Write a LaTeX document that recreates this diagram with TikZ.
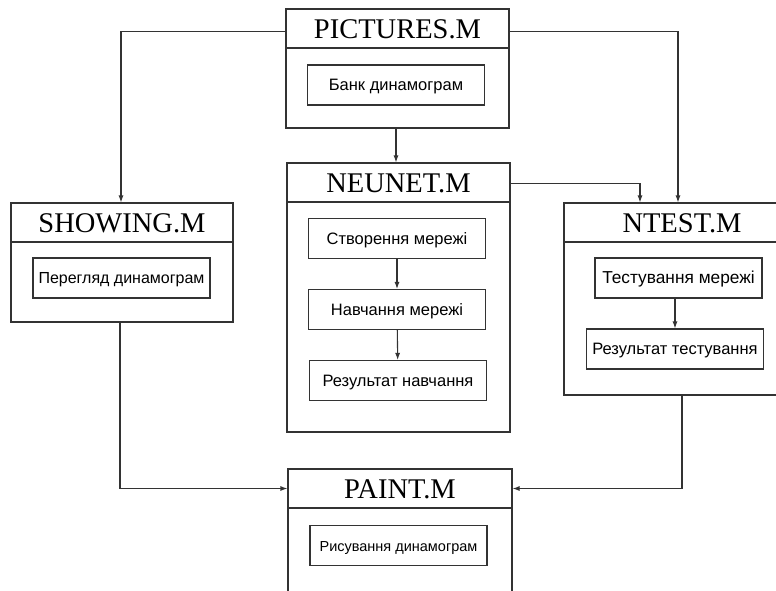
\documentclass[tikz,border=0pt]{standalone}
\usepackage{fontspec}
\setmainfont{Liberation Serif}
\setsansfont{Liberation Sans}
\usetikzlibrary{arrows.meta, positioning}

\begin{document}
\begin{tikzpicture}[x=1pt, y=-1pt,
  module/.style={rectangle, draw=black!80, line width=1.1pt, fill=white,
    inner sep=0pt},
  %
  header/.style={rectangle, draw=black!80, line width=1.1pt, inner sep=0pt,
    minimum height=39pt, text height=19pt, text depth=0pt,
    font=\fontsize{28.5}{30}\selectfont},
  %
  task/.style={rectangle, draw=black!80, line width=1.1pt, fill=white,
    minimum width=177pt, minimum height=40pt, inner sep=0pt,
    text height=11.5pt, text depth=0pt,
    font=\sffamily\fontsize{16.5}{18}\selectfont},
  %
  small/.style={font=\sffamily\fontsize{#1}{18}\selectfont},
  %
  link/.style={draw=black!80, line width=1.1pt,
    -{Latex[length=7pt,width=5pt]}}
  ]

  \useasboundingbox (0,0) rectangle (776,590);

  %%%%%%%%%%%%%%%%%%%%%%%%%%%%%%% modules
  \node [module, minimum width=223pt, minimum height=119pt] (pictures) at (397.5,68.5) {};
  \node [header, minimum width=223pt, anchor=north] (picturesT) at (pictures.north) {PICTURES.M};
  \node [task] (bank) at (396,85) {Банк динамограм};

  \node [module, minimum width=223pt, minimum height=269pt] (neunet) at (398.5,297.5) {};
  \node [header, minimum width=223pt, anchor=north] (neunetT) at (neunet.north) {NEUNET.M};
  \node [task] (create) at (397,238.5) {Створення мережі};
  \node [task] (train) at (397,309.5) {Навчання мережі};
  \node [task] (trainres) at (398,380.5) {Результат навчання};

  \node [module, minimum width=222pt, minimum height=119pt] (showing) at (122,262.5) {};
  \node [header, minimum width=222pt, anchor=north] (showingT) at (showing.north) {SHOWING.M};
  \node [task, small=16] (view) at (121.5,278) {Перегляд динамограм};

  \node [module, minimum width=236pt, minimum height=192pt] (ntest) at (682,299) {};
  \node [header, minimum width=236pt, anchor=north] (ntestT) at (ntest.north) {NTEST.M};
  \node [task, small=17.3, minimum width=167pt] (test) at (678.5,278) {Тестування мережі};
  \node [task] (testres) at (675,349) {Результат тестування};

  \node [module, minimum width=224pt, minimum height=131pt] (paint) at (400,534.5) {};
  \node [header, minimum width=224pt, anchor=north] (paintT) at (paint.north) {PAINT.M};
  \node [task, small=14.5] (draw) at (398.5,545.5) {Рисування динамограм};

  %%%%%%%%%%%%%%%%%%%%%%%%%%%%%%% links
  \draw [link] (pictures.south -| bank) -- (neunet.north -| bank);
  \draw [link] ([yshift=-23pt]pictures.north west) -| ([xshift=-1pt]showing.north);
  \draw [link] ([yshift=-23pt]pictures.north east) -| ([xshift=-4pt]ntest.north);
  \draw [link] ([yshift=-21pt]neunet.north east) -| ([xshift=-42pt]ntest.north);
  \draw [link] (create) -- (train);
  \draw [link] (train) -- (trainres);
  \draw [link] (test.south -| testres) -- (testres);
  \draw [link] ([xshift=-2pt]showing.south) |- (paintT.west);
  \draw [link] (ntest.south) |- (paintT.east);

\end{tikzpicture}
\end{document}
